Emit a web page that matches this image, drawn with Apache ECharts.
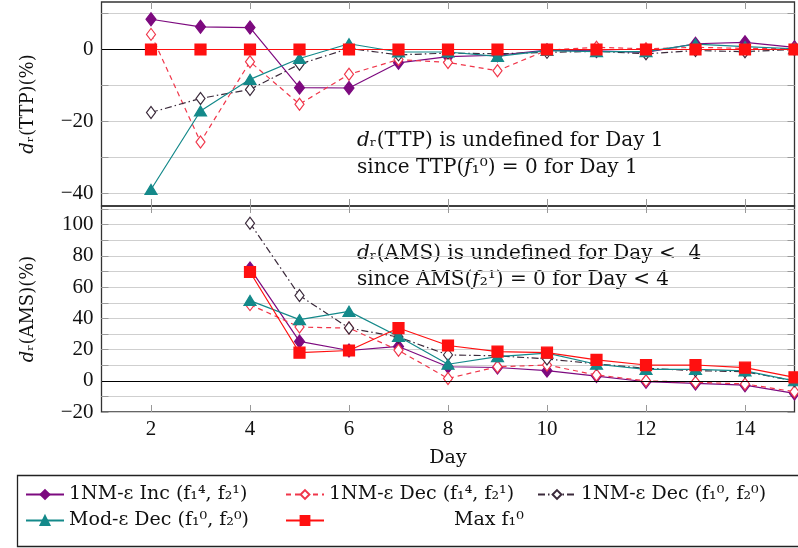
<!DOCTYPE html>
<html>
<head>
<meta charset="utf-8">
<script src="https://cdn.jsdelivr.net/npm/echarts@6/dist/echarts.min.js"></script>
<style>
html, body { margin: 0; padding: 0; background: #fff; }
#chart { width: 798px; height: 548px; }
</style>
</head>
<body>
<div id="chart"></div>
<script>
const FONT = '"Liberation Serif", "DejaVu Serif", serif'
const WIDE = '"DejaVu Serif", "Liberation Serif", serif'

// days on which each measure is defined
const daysTtp = [2, 3, 4, 5, 6, 7, 8, 9, 10, 11, 12, 13, 14, 15]
const daysAms = [4, 5, 6, 7, 8, 9, 10, 11, 12, 13, 14, 15]

const seriesNames = [
  '1NM-ε Inc (f₁⁴, f₂¹)',
  '1NM-ε Dec (f₁⁴, f₂¹)',
  '1NM-ε Dec (f₁⁰, f₂⁰)',
  'Mod-ε Dec (f₁⁰, f₂⁰)',
  'Max f₁⁰'
]

// d_r(TTP) in %
const ttpIncF4F1 = [8.4, 6.3, 6.1, -10.6, -10.7, -3.7, -2.0, -1.6, -0.2, -0.4, -0.8, 1.6, 2.0, 0.6]
const ttpDecF4F1 = [4.2, -25.7, -3.4, -15.2, -6.9, -2.8, -3.6, -5.9, -0.2, 0.6, 0.2, 0.6, 0.3, 0.2]
const ttpDecF0F0 = [-17.5, -13.6, -11.1, -4.1, 0.3, -1.5, -1.0, -1.2, -0.8, -0.5, -1.2, -0.3, -0.6, 0]
const ttpModDec = [-38.9, -17.1, -8.3, -2.5, 1.6, -0.7, -0.7, -1.9, -0.3, -0.6, -0.6, 1.5, 0.8, 0.2]
const ttpMax = [0, 0, 0, 0, 0, 0, 0, 0, 0, 0, 0, 0, 0, 0]

// d_r(AMS) in %
const amsIncF4F1 = [72, 25.2, 19.4, 22, 9, 8.5, 6.5, 3, -0.6, -1.7, -2.8, -8.1]
const amsDecF4F1 = [48.8, 34.4, 33.8, 19.5, 1.5, 9, 10.1, 3.7, 0, -1, -2, -7]
const amsDecF0F0 = [101, 54.6, 33.8, 28, 16.6, 16, 14, 10.8, 8, 6.5, 5.8, 0]
const amsModDec = [51.4, 39.2, 44.5, 28.4, 10.6, 15.5, 17.7, 10.6, 7.3, 7.3, 6.3, 0]
const amsMax = [69.7, 18, 19.4, 33.8, 22.6, 18.7, 18, 13.4, 10.1, 10.1, 8.4, 2.2]

// ticks
const xTicks = [2, 4, 6, 8, 10, 12, 14]
const ttpTicks = [-40, -30, -20, -10, 0, 10]
const ttpLabels = [-40, -20, 0]
const amsTicks = [-20, -10, 0, 10, 20, 30, 40, 50, 60, 70, 80, 90, 100, 110]
const amsLabels = [-20, 0, 20, 40, 60, 80, 100]

const styles = [
  { color: '#7d0a7f', symbol: 'diamond', size: [10, 13], fill: '#7d0a7f', dash: 'solid' },
  { color: '#f0364a', symbol: 'diamond', size: [9, 12], fill: '#fff', dash: [5, 4] },
  { color: '#3b2a3b', symbol: 'diamond', size: [9, 12], fill: '#fff', dash: [7, 3, 1.5, 3] },
  { color: '#14898a', symbol: 'triangle', size: [12, 10], fill: '#14898a', dash: 'solid' },
  { color: '#ff1010', symbol: 'rect', size: [11, 11], fill: '#ff1010', dash: 'solid' }
]

const ttpData = [ttpIncF4F1, ttpDecF4F1, ttpDecF0F0, ttpModDec, ttpMax]
const amsData = [amsIncF4F1, amsDecF4F1, amsDecF0F0, amsModDec, amsMax]

function pairs(days, vals) {
  return days.map((d, i) => [d, vals[i]])
}
function minus(v) {
  return String(v).replace('-', '−')
}

const zeroLine = {
  silent: true,
  symbol: 'none',
  label: { show: false },
  lineStyle: { color: '#000', width: 1.2, type: 'solid' },
  data: [{ yAxis: 0 }]
}

const series = []
;[ttpData, amsData].forEach((set, panel) => {
  set.forEach((vals, k) => {
    const s = styles[k]
    series.push({
      name: seriesNames[k],
      type: 'line',
      xAxisIndex: panel * 2,
      yAxisIndex: panel * 2,
      data: pairs(panel === 0 ? daysTtp : daysAms, vals),
      symbol: s.symbol,
      symbolSize: s.size,
      showAllSymbol: true,
      lineStyle: { color: s.color, width: 1.2, type: s.dash },
      itemStyle: { color: s.fill, borderColor: s.color, borderWidth: 1.2 },
      emphasis: { disabled: true },
      markLine: k === 0 ? zeroLine : undefined,
      z: 3 + k
    })
  })
})

function xAxis(grid, pos, labels) {
  return {
    type: 'value', gridIndex: grid, position: pos, min: 1, max: 15,
    name: labels ? 'Day' : '', nameLocation: 'middle', nameGap: 37,
    nameTextStyle: { fontFamily: WIDE, fontSize: 19, color: '#111' },
    axisLine: { show: false, onZero: false },
    axisTick: { show: true, inside: true, length: 7, customValues: xTicks, lineStyle: { color: '#999' } },
    axisLabel: { show: labels, customValues: xTicks, fontFamily: FONT, fontSize: 21, color: '#111', margin: 7 },
    splitLine: { show: false }
  }
}
function yAxis(grid, pos, min, max, ticks, labels, name) {
  const left = pos === 'left'
  return {
    type: 'value', gridIndex: grid, position: pos, min: min, max: max,
    name: left ? name : '', nameLocation: 'middle', nameGap: 64,
    nameTextStyle: {
      fontFamily: WIDE, fontSize: 18, color: '#111',
      rich: { i: { fontFamily: WIDE, fontSize: 18, fontStyle: 'italic', color: '#111' } }
    },
    axisLine: { show: false, onZero: false },
    axisTick: { show: true, inside: true, length: 7, customValues: ticks, lineStyle: { color: '#999' } },
    axisLabel: { show: left, customValues: labels, formatter: minus, fontFamily: FONT, fontSize: 21, color: '#111', margin: 8 },
    splitLine: { show: left, lineStyle: { color: '#cfcfcf', width: 1.2 } }
  }
}

function legendItem(i, left, top, pad) {
  return {
    data: [seriesNames[i]], left: left, top: top, orient: 'horizontal',
    itemWidth: 38, itemHeight: 11, itemGap: 0, padding: 0,
    selectedMode: false,
    textStyle: { fontFamily: WIDE, fontSize: 19, color: '#111', padding: [0, 0, 0, pad || 0] }
  }
}

const annotStyle = function (text) {
  return {
    text: text,
    font: '20px ' + WIDE, fill: '#111',
    rich: { i: { fontStyle: 'italic', fontFamily: WIDE, fontSize: 20, fill: '#111' } }
  }
}

const chart = echarts.init(document.getElementById('chart'))
chart.setOption({
  animation: false,
  backgroundColor: '#fff',
  grid: [
    { left: 101.5, top: 2, width: 693, height: 204, show: true, borderColor: '#333', borderWidth: 1.3, backgroundColor: 'transparent' },
    { left: 101.5, top: 206, width: 693, height: 206, show: true, borderColor: '#333', borderWidth: 1.3, backgroundColor: 'transparent' }
  ],
  xAxis: [
    xAxis(0, 'bottom', false),
    xAxis(0, 'top', false),
    xAxis(1, 'bottom', true),
    xAxis(1, 'top', false)
  ],
  yAxis: [
    yAxis(0, 'left', -43.5, 13.2, ttpTicks, ttpLabels, '{i|d}ᵣ(TTP)(%)'),
    yAxis(0, 'right', -43.5, 13.2, ttpTicks, ttpLabels, ''),
    yAxis(1, 'left', -20, 112, amsTicks, amsLabels, '{i|d}ᵣ(AMS)(%)'),
    yAxis(1, 'right', -20, 112, amsTicks, amsLabels, '')
  ],
  legend: [
    legendItem(0, 25, 485),
    legendItem(1, 285, 485),
    legendItem(2, 537, 485),
    legendItem(3, 25, 511),
    legendItem(4, 285, 511, 125)
  ],
  graphic: [
    {
      type: 'rect', left: 15, top: 473, silent: true,
      shape: { width: 782, height: 71 },
      style: { fill: 'none', stroke: '#222', lineWidth: 1.3 }
    },
    { type: 'text', left: 357, top: 131, silent: true, style: annotStyle('{i|d}ᵣ(TTP) is undefined for Day 1') },
    { type: 'text', left: 357, top: 158, silent: true, style: annotStyle('since TTP({i|f}₁⁰) = 0 for Day 1') },
    { type: 'text', left: 357, top: 244, silent: true, style: annotStyle('{i|d}ᵣ(AMS) is undefined for Day <  4') },
    { type: 'text', left: 357, top: 270, silent: true, style: annotStyle('since AMS({i|f}₂¹) = 0 for Day < 4') }
  ],
  series: series
})
</script>
</body>
</html>
